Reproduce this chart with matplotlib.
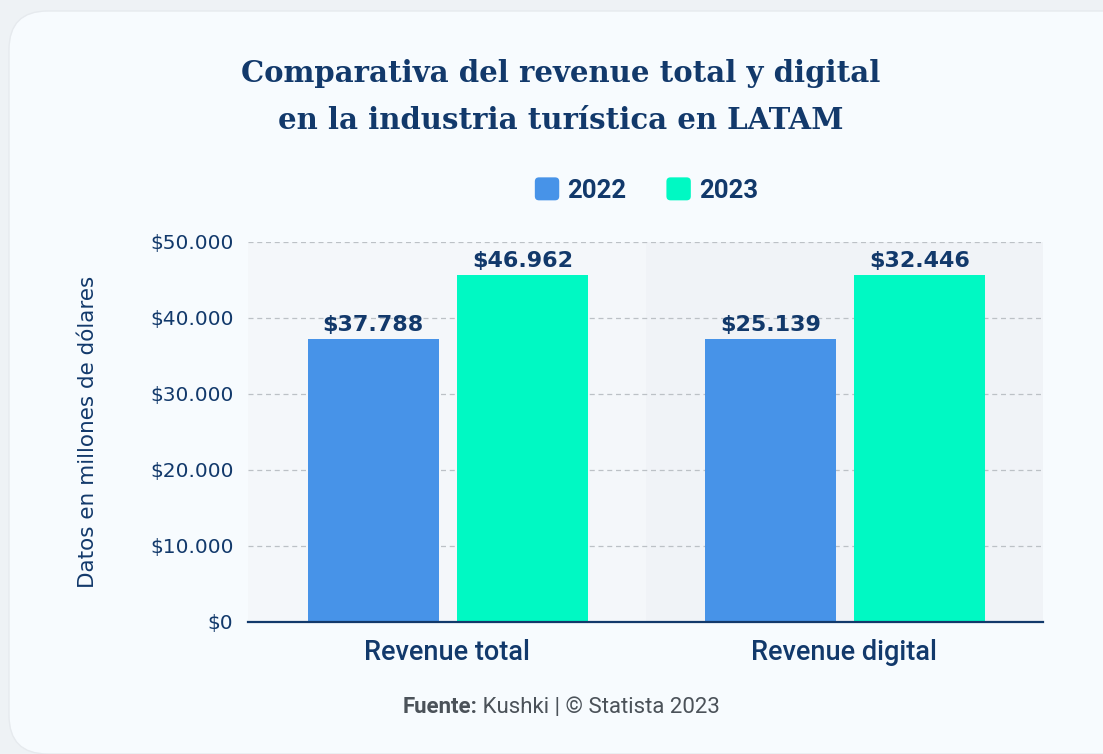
import matplotlib
matplotlib.use("Agg")
import matplotlib.pyplot as plt
from matplotlib.patches import FancyBboxPatch, Patch
from matplotlib.legend_handler import HandlerPatch
import numpy as np

categories = ["Revenue total", "Revenue digital"]
series_names = ["2022", "2023"]
# bar heights as drawn in the reference
values_2022 = [37240, 37240]
values_2023 = [45660, 45660]
# value labels as printed in the reference
labels_2022 = ["$37.788", "$25.139"]
labels_2023 = ["$46.962", "$32.446"]
yticks = [0, 10000, 20000, 30000, 40000, 50000]

NAVY = "#12396b"
C2022 = "#4793e8"
C2023 = "#00f9c3"
SANS_B = "Roboto"

W, H = 1103, 754
fig = plt.figure(figsize=(W / 100, H / 100), dpi=100)
fig.patch.set_facecolor("#eef2f5")

card = FancyBboxPatch((9 / W, 0), (W + 40) / W, (H - 11) / H,
                      boxstyle="round,pad=0,rounding_size=0.035",
                      transform=fig.transFigure, facecolor="#f7fbfe",
                      edgecolor="#e6eaee", linewidth=1.0, zorder=-5,
                      mutation_aspect=W / H)
fig.patches.append(card)

ax = fig.add_axes([248 / W, 1 - 622 / H, (1043 - 248) / W, (622 - 242) / H])
ax.set_zorder(2)
ax.set_facecolor("none")
x = np.arange(len(categories))
ax.set_xlim(-0.5, len(categories) - 0.5)
ax.set_ylim(0, 50000)

band_colors = ["#f4f7fa", "#f0f3f7"]
for i in range(len(categories)):
    ax.axvspan(i - 0.5, i + 0.5, color=band_colors[i % 2], zorder=0, lw=0)

for yv in yticks[1:]:
    ax.axhline(yv, color="#bcc1c6", lw=0.9, ls=(0, (4, 3)), zorder=1)

bw = 0.33
b1 = ax.bar(x - 0.185, values_2022, bw, color=C2022, zorder=2)
b2 = ax.bar(x + 0.19, values_2023, bw, color=C2023, zorder=2)

for bars, labs in ((b1, labels_2022), (b2, labels_2023)):
    for rect, lab in zip(bars, labs):
        ax.annotate(lab, (rect.get_x() + rect.get_width() / 2, rect.get_height()),
                    xytext=(0, 3), textcoords="offset points", ha="center", va="bottom",
                    fontsize=16, fontweight="bold", color=NAVY, family="DejaVu Sans", zorder=3)

for s in ["top", "right", "left"]:
    ax.spines[s].set_visible(False)
ax.spines["bottom"].set_color(NAVY)
ax.spines["bottom"].set_linewidth(1.6)
ax.spines["bottom"].set_zorder(4)

ax.set_yticks(yticks)
ax.set_yticklabels(["$" + f"{v:,}".replace(",", ".") for v in yticks],
                   fontsize=14.5, color=NAVY, family="DejaVu Sans")
ax.tick_params(axis="y", length=0, pad=10.5)
ax.set_xticks(x)
ax.set_xticklabels(categories, fontsize=19.5, color=NAVY, family=SANS_B, fontweight="medium")
ax.tick_params(axis="x", length=0, pad=12)

fig.text(88 / W, 1 - 432 / H, "Datos en millones de dólares", rotation=90,
         ha="center", va="center", fontsize=15.5, color=NAVY, family="DejaVu Sans")

fig.text(561 / W, 1 - 97 / H, "Comparativa del revenue total y digital\nen la industria turística en LATAM",
         ha="center", va="center", fontsize=21, fontweight="bold", color=NAVY,
         family="DejaVu Serif", linespacing=1.8)


def rounded_square(legend, orig_handle, xdescent, ydescent, width, height, fontsize):
    return FancyBboxPatch((-xdescent, -ydescent), width, height,
                          boxstyle="round,pad=0,rounding_size=%f" % (height * 0.18),
                          facecolor=orig_handle.get_facecolor(), edgecolor="none")


handles = [Patch(facecolor=C2022, edgecolor="none", label=series_names[0]),
           Patch(facecolor=C2023, edgecolor="none", label=series_names[1])]
leg = fig.legend(handles=handles, loc="center", bbox_to_anchor=(646.5 / W, 1 - 190 / H),
                 ncol=2, frameon=False, handlelength=0.95, handleheight=1.0,
                 handletextpad=0.32, columnspacing=1.55,
                 handler_map={Patch: HandlerPatch(patch_func=rounded_square)},
                 prop={"family": SANS_B, "weight": "bold", "size": 18.5})
for t in leg.get_texts():
    t.set_color(NAVY)

# source line
t1 = fig.text(0, 1 - 707 / H, "Fuente:", ha="left", va="center", fontsize=16,
              fontweight="bold", color="#4b5259", family=SANS_B)
t2 = fig.text(0, 1 - 707 / H, " Kushki | © Statista 2023", ha="left", va="center", fontsize=16,
              color="#4b5259", family=SANS_B)
fig.canvas.draw()
r = fig.canvas.get_renderer()
w1 = t1.get_window_extent(r).width
w2 = t2.get_window_extent(r).width
start = 561 - (w1 + w2) / 2
t1.set_x(start / W)
t2.set_x((start + w1) / W)

fig.savefig("out.png", dpi=100, facecolor=fig.get_facecolor())
